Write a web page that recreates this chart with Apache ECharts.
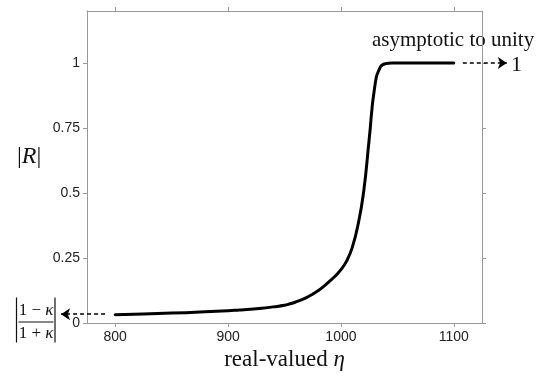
<!DOCTYPE html>
<html>
<head>
<meta charset="utf-8">
<script src="https://cdn.jsdelivr.net/npm/echarts@6/dist/echarts.min.js"></script>
<style>html,body{margin:0;padding:0;background:#fff}#c{width:542px;height:380px}</style>
</head>
<body>
<div id="c"></div>
<script>
// ---- data ----
var etaValues = [800, 825, 850, 875, 900, 910, 920, 930, 940, 950, 955, 960, 965, 970, 975, 980, 985, 990, 995, 1000, 1005, 1010, 1015, 1020, 1025, 1030, 1035, 1040, 1045, 1060, 1080, 1100];
var rValues   = [0.032, 0.035, 0.038, 0.042, 0.047, 0.050, 0.053, 0.057, 0.062, 0.068, 0.074, 0.081, 0.089, 0.099, 0.111, 0.125, 0.142, 0.161, 0.181, 0.205, 0.238, 0.290, 0.375, 0.50, 0.705, 0.91, 0.985, 0.998, 1.0, 1.0, 1.0, 1.0];
var xTicks = [800, 900, 1000, 1100];
var xTickLabels = ['800', '900', '1000', '1100'];
var yTicks = [0, 0.25, 0.5, 0.75, 1];
var yTickLabels = ['0', '0.25', '0.5', '0.75', '1'];
var leftArrow = [[791, 0.034], [752, 0.034]];
var rightArrow = [[1108, 1.0], [1147, 1.0]];

var curve = etaValues.map(function (x, i) { return [x, rValues[i]]; });

var axisColor = '#999';
var serif = "'Liberation Serif', 'DejaVu Serif', serif";
var sans = "'Liberation Sans', Arial, sans-serif";

var chart = echarts.init(document.getElementById('c'), null, {renderer: 'canvas'});
chart.setOption({
  animation: false,
  backgroundColor: '#fff',
  grid: {left: 87, right: 60, top: 11, bottom: 57},
  xAxis: [{
    type: 'value', min: 775, max: 1125, position: 'bottom',
    axisLine: {show: true, onZero: false, lineStyle: {color: axisColor, width: 1}},
    axisTick: {show: true, length: 4, customValues: xTicks, lineStyle: {color: axisColor}},
    axisLabel: {customValues: xTicks, color: '#222', fontFamily: sans, fontSize: 14, margin: 7,
      formatter: function (v) { var i = xTicks.indexOf(v); return i >= 0 ? xTickLabels[i] : ''; }},
    splitLine: {show: false},
    name: '{t|real-valued }{i|η}', nameLocation: 'middle', nameGap: 24,
    nameTextStyle: {rich: {
      t: {fontFamily: serif, fontSize: 23, color: '#111'},
      i: {fontFamily: serif, fontSize: 23, fontStyle: 'italic', color: '#111'}
    }}
  }, {
    type: 'value', min: 775, max: 1125, position: 'top',
    axisLine: {show: true, onZero: false, lineStyle: {color: axisColor, width: 1}},
    axisTick: {show: true, length: 4, customValues: xTicks, lineStyle: {color: axisColor}},
    axisLabel: {show: false},
    splitLine: {show: false}
  }],
  yAxis: [{
    type: 'value', min: 0, max: 1.2, position: 'left',
    axisLine: {show: true, onZero: false, lineStyle: {color: axisColor, width: 1}},
    axisTick: {show: true, length: 4, customValues: yTicks, lineStyle: {color: axisColor}},
    axisLabel: {customValues: yTicks, color: '#222', fontFamily: sans, fontSize: 14, margin: 7,
      formatter: function (v) { var i = yTicks.indexOf(v); return i >= 0 ? yTickLabels[i] : ''; }},
    splitLine: {show: false}
  }, {
    type: 'value', min: 0, max: 1.2, position: 'right',
    axisLine: {show: true, onZero: false, lineStyle: {color: axisColor, width: 1}},
    axisTick: {show: true, length: 4, customValues: yTicks, lineStyle: {color: axisColor}},
    axisLabel: {show: false},
    splitLine: {show: false}
  }],
  series: [{
    type: 'line', data: curve, xAxisIndex: 0, yAxisIndex: 0,
    showSymbol: false, smooth: 0.5,
    lineStyle: {color: '#000', width: 3, join: 'round', cap: 'round'}
  }, {
    type: 'lines', coordinateSystem: 'cartesian2d', xAxisIndex: 0, yAxisIndex: 0,
    clip: false, polyline: false,
    symbol: ['none', 'arrow'], symbolSize: 9,
    lineStyle: {color: '#000', width: 1.5, type: [4, 3], opacity: 1},
    data: [{coords: leftArrow}, {coords: rightArrow}]
  }],
  graphic: [
    {type: 'text', left: 17, top: 145, style: {
      text: '{n||}{i|R}{n||}', rich: {
        n: {fontFamily: serif, fontSize: 24, fill: '#111'},
        i: {fontFamily: serif, fontSize: 24, fontStyle: 'italic', fill: '#111'}
      }}},
    {type: 'text', left: 372, top: 30, style: {
      text: 'asymptotic to unity', fontFamily: serif, fontSize: 21, fill: '#111'}},
    {type: 'text', left: 511, top: 54, style: {
      text: '1', fontFamily: serif, fontSize: 22, fill: '#111'}},
    {type: 'group', left: 14, top: 295, children: [
      {type: 'line', shape: {x1: 1, y1: 0, x2: 1, y2: 45}, style: {stroke: '#111', lineWidth: 1.2}},
      {type: 'line', shape: {x1: 39.5, y1: 0, x2: 39.5, y2: 45}, style: {stroke: '#111', lineWidth: 1.2}},
      {type: 'line', shape: {x1: 3, y1: 24.5, x2: 38, y2: 24.5}, style: {stroke: '#111', lineWidth: 1}},
      {type: 'text', x: 20.5, y: 13, style: {
        text: '{n|1 − }{i|κ}', align: 'center', verticalAlign: 'middle', rich: {
          n: {fontFamily: serif, fontSize: 17, fill: '#111'},
          i: {fontFamily: serif, fontSize: 17, fontStyle: 'italic', fill: '#111'}
        }}},
      {type: 'text', x: 20.5, y: 36, style: {
        text: '{n|1 + }{i|κ}', align: 'center', verticalAlign: 'middle', rich: {
          n: {fontFamily: serif, fontSize: 17, fill: '#111'},
          i: {fontFamily: serif, fontSize: 17, fontStyle: 'italic', fill: '#111'}
        }}}
    ]}
  ]
});
</script>
</body>
</html>
